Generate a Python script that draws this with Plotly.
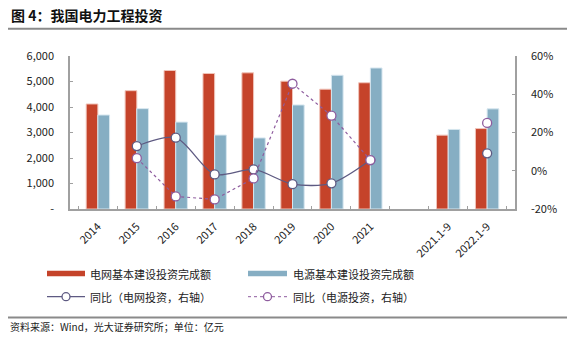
import plotly.graph_objects as go

categories = ["2014", "2015", "2016", "2017", "2018", "2019", "2020", "2021", " ", "2021.1-9", "2022.1-9"]
grid_invest = [4119, 4640, 5431, 5315, 5340, 5012, 4699, 4951, None, 2896, 3154]
source_invest = [3686, 3936, 3408, 2900, 2787, 4080, 5244, 5530, None, 3120, 3927]
grid_yoy = [None, 12.9, 17.3, -1.9, 0.7, -7.0, -6.6, 5.6, None, None, 9.1]
source_yoy = [None, 6.6, -13.4, -15.0, -4.0, 45.5, 28.8, 5.6, None, None, 25.0]

left_tickvals = [0, 1000, 2000, 3000, 4000, 5000, 6000]
left_ticktext = ["-", "1,000", "2,000", "3,000", "4,000", "5,000", "6,000"]
right_tickvals = [-20, 0, 20, 40, 60]
right_ticktext = ["-20%", "0%", "20%", "40%", "60%"]

names = ["电网基本建设投资完成额", "电源基本建设投资完成额", "同比（电网投资，右轴）", "同比（电源投资，右轴）"]
title_text = "图 4：我国电力工程投资"
source_text = "资料来源：Wind，光大证券研究所；单位：亿元"

RED = "#C5432A"
BLUE = "#86AEC3"
LINE1 = "#5E5A82"
LINE2 = "#8E5C9E"
FONT = "Noto Sans CJK SC"
TXT = "#222222"

W, H = 575, 340
L, R, T, B = 70, 515, 56, 209


def px(x):
    return (x - L) / (R - L)


def py(y):
    return (B - y) / (B - T)


fig = go.Figure()
fig.add_trace(go.Bar(x=categories, y=grid_invest, name=names[0], marker=dict(color=RED, line=dict(color="#F0C4BA", width=1))))
fig.add_trace(go.Bar(x=categories, y=source_invest, name=names[1], marker=dict(color=BLUE, line=dict(color="#D6E6EF", width=1))))
fig.add_trace(go.Scatter(x=categories, y=grid_yoy, name=names[2], yaxis="y2", mode="lines+markers",
                         line=dict(color=LINE1, width=1.3, shape="spline", smoothing=0.8),
                         marker=dict(size=9, color="white", line=dict(color=LINE1, width=1.3)),
                         connectgaps=False))
fig.add_trace(go.Scatter(x=categories, y=source_yoy, name=names[3], yaxis="y2", mode="lines+markers",
                         line=dict(color=LINE2, width=1.2, dash="dot"),
                         marker=dict(size=9, color="white", line=dict(color=LINE2, width=1.3)),
                         connectgaps=False))

fig.update_layout(
    width=W, height=H,
    margin=dict(l=L, r=W - R, t=T, b=H - B),
    paper_bgcolor="white", plot_bgcolor="white",
    showlegend=False,
    barmode="group", bargap=0.4, bargroupgap=0,
    font=dict(family=FONT, size=11, color=TXT),
    xaxis=dict(type="category", categoryorder="array", categoryarray=categories,
               showline=True, linecolor="#A0A0A0", linewidth=1.5,
               ticks="inside", tickson="boundaries", ticklen=3, tickcolor="#A0A0A0",
               tickangle=-45, ticklabelstandoff=5, tickfont=dict(size=11, color=TXT), showgrid=False),
    yaxis=dict(range=[0, 6000], tickvals=left_tickvals, ticktext=left_ticktext,
               showline=True, linecolor="#A0A0A0", linewidth=1.5,
               ticks="inside", ticklen=3, tickcolor="#A0A0A0",
               ticklabelstandoff=12, showgrid=False, zeroline=False,
               tickfont=dict(size=11, color=TXT)),
    yaxis2=dict(range=[-20, 60], tickvals=right_tickvals, ticktext=right_ticktext,
                overlaying="y", side="right",
                showline=True, linecolor="#A0A0A0", linewidth=1.5,
                ticks="inside", ticklen=3, tickcolor="#A0A0A0",
                ticklabelstandoff=12, showgrid=False, zeroline=False,
                tickfont=dict(size=11, color=TXT)),
)

shapes = []
annotations = []
# title and separators
annotations.append(dict(xref="paper", yref="paper", x=px(9), y=py(15), text="<b>" + title_text + "</b>",
                        showarrow=False, xanchor="left", yanchor="middle", font=dict(size=14, color="#111111", family=FONT)))
shapes.append(dict(type="line", xref="paper", yref="paper", x0=px(8), x1=px(567), y0=py(28.7), y1=py(28.7),
                   line=dict(color="#8A8A8A", width=2)))
shapes.append(dict(type="line", xref="paper", yref="paper", x0=px(8), x1=px(567), y0=py(317.5), y1=py(317.5),
                   line=dict(color="#8A8A8A", width=2)))
annotations.append(dict(xref="paper", yref="paper", x=px(8), y=py(326.5), text=source_text,
                        showarrow=False, xanchor="left", yanchor="middle", font=dict(size=10, color=TXT, family=FONT)))

# legend
row1, row2 = 273.5, 296.7
cols = [(47, 85, 88), (248, 287, 291)]
for i, (x0, x1, tx) in enumerate(cols):
    color = RED if i == 0 else BLUE
    shapes.append(dict(type="rect", xref="paper", yref="paper", x0=px(x0), x1=px(x1), y0=py(row1 - 2.7), y1=py(row1 + 2.7),
                       fillcolor=color, line=dict(width=0)))
    annotations.append(dict(xref="paper", yref="paper", x=px(tx), y=py(row1), text=names[i], showarrow=False,
                            xanchor="left", yanchor="middle", font=dict(size=11, color=TXT, family=FONT)))
    lc = LINE1 if i == 0 else LINE2
    shapes.append(dict(type="line", xref="paper", yref="paper", x0=px(x0), x1=px(x1), y0=py(row2), y1=py(row2),
                       line=dict(color=lc, width=1.3 if i == 0 else 1.0, dash="solid" if i == 0 else "dot")))
    cx = (x0 + x1) / 2
    shapes.append(dict(type="circle", xref="paper", yref="paper", x0=px(cx - 4), x1=px(cx + 4), y0=py(row2 - 4), y1=py(row2 + 4),
                       fillcolor="white", line=dict(color=lc, width=1.3)))
    annotations.append(dict(xref="paper", yref="paper", x=px(tx), y=py(row2), text=names[i + 2], showarrow=False,
                            xanchor="left", yanchor="middle", font=dict(size=11, color=TXT, family=FONT)))

fig.update_layout(shapes=shapes, annotations=annotations)
fig.write_html("out.html")
